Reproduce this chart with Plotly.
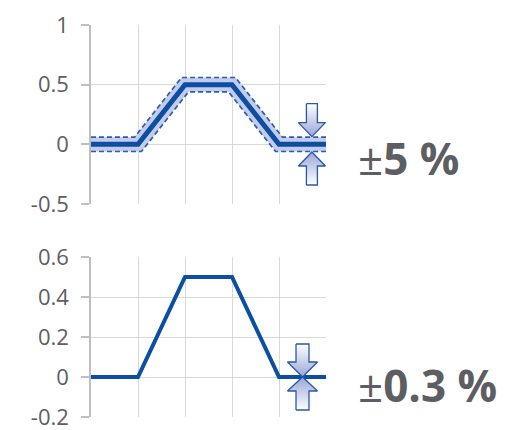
import numpy as np
import plotly.graph_objects as go

# ---- data ----
x_vals = [0, 1, 2, 3, 4, 5]
y_vals = [0, 0, 0.5, 0.5, 0, 0]
tol_top = 0.06          # band half-width (vertical, flat parts) top chart
label_top = ("±", "5 %")
label_bottom = ("±", "0.3 %")
top_ticks = [-0.5, 0, 0.5, 1]
bottom_ticks = [-0.2, 0, 0.2, 0.4, 0.6]
top_range = [-0.5, 1]
bottom_range = [-0.2, 0.6]
x_range = [0, 5]
arrow_x_top = 4.7
arrow_x_bottom = 4.5

# ---- layout geometry ----
W, H = 506, 430
ML, MR, MT, MB = 91, 180, 25, 13
PW = W - ML - MR
PH = H - MT - MB
top_dom = [1 - 179 / PH, 1.0]
bot_dom = [0.0, 160 / PH]

sx = PW / (x_range[1] - x_range[0])
sy_top = (top_dom[1] - top_dom[0]) * PH / (top_range[1] - top_range[0])
sy_bot = (bot_dom[1] - bot_dom[0]) * PH / (bottom_range[1] - bottom_range[0])

BLUE = "#0b4ea2"
DASH = "#2a5db0"
BAND = "#c5cceb"
GRID = "#d9d9d9"
AXIS = "#bfbfbf"
TXT = "#5d5e62"


def offset_line(xs, ys, d_px, sx, sy):
    P = np.column_stack([np.asarray(xs, float) * sx, np.asarray(ys, float) * sy])
    seg = P[1:] - P[:-1]
    L = np.linalg.norm(seg, axis=1)[:, None]
    t = seg / L
    n = np.column_stack([-t[:, 1], t[:, 0]])
    out = [P[0] + d_px * n[0]]
    for j in range(1, len(P) - 1):
        a, b = n[j - 1], n[j]
        m = (a + b) / (1 + a @ b)
        out.append(P[j] + d_px * m)
    out.append(P[-1] + d_px * n[-1])
    out = np.array(out)
    return out[:, 0] / sx, out[:, 1] / sy


fig = go.Figure()

d_px = tol_top * sy_top
ux, uy = offset_line(x_vals, y_vals, d_px, sx, sy_top)
lx, ly = offset_line(x_vals, y_vals, -d_px, sx, sy_top)

# band fill
fig.add_trace(go.Scatter(x=list(ux) + list(lx[::-1]), y=list(uy) + list(ly[::-1]),
                         fill="toself", fillcolor=BAND, line=dict(width=0),
                         mode="lines", xaxis="x", yaxis="y", hoverinfo="skip"))
for bx, by in ((ux, uy), (lx, ly)):
    fig.add_trace(go.Scatter(x=bx, y=by, mode="lines",
                             line=dict(color=DASH, width=1.7, dash="5px,3px"),
                             xaxis="x", yaxis="y", hoverinfo="skip"))
fig.add_trace(go.Scatter(x=x_vals, y=y_vals, mode="lines",
                         line=dict(color=BLUE, width=5), xaxis="x", yaxis="y"))

fig.add_trace(go.Scatter(x=x_vals, y=y_vals, mode="lines",
                         line=dict(color=BLUE, width=4), xaxis="x2", yaxis="y2"))


def arrow(xc, tip_y, direction, sy, xa, ya, length=33, head=14, shaft_w=11, head_w=27):
    # direction: -1 pointing down (tip below tail), +1 pointing up
    px = np.array([-shaft_w / 2, shaft_w / 2, shaft_w / 2, head_w / 2, 0,
                   -head_w / 2, -shaft_w / 2, -shaft_w / 2])
    dist = np.array([length, length, head, head, 0, head, head, length])
    xs = xc + px / sx
    ys = tip_y - direction * dist / sy
    dark = "#9aa5d8"
    if direction < 0:
        cs = [[0, dark], [1, "#ffffff"]]
    else:
        cs = [[0, "#ffffff"], [1, dark]]
    fig.add_trace(go.Scatter(x=xs, y=ys, mode="lines", fill="toself",
                             fillgradient=dict(type="vertical", colorscale=cs),
                             line=dict(color="#2858a8", width=1.3),
                             xaxis=xa, yaxis=ya, hoverinfo="skip"))


arrow(arrow_x_top, tol_top + 0.5 / sy_top, -1, sy_top, "x", "y")
arrow(arrow_x_top, -tol_top - 0.5 / sy_top, 1, sy_top, "x", "y")
arrow(arrow_x_bottom, 0, -1, sy_bot, "x2", "y2", length=33, head=15, shaft_w=13, head_w=30)
arrow(arrow_x_bottom, 0, 1, sy_bot, "x2", "y2", length=33, head=14, shaft_w=13, head_w=30)

axis_common = dict(showgrid=True, gridcolor=GRID, gridwidth=1.3, zeroline=False,
                   showticklabels=False, ticks="", range=x_range, dtick=1, tick0=0,
                   showline=False, fixedrange=True, automargin=False)
yaxis_common = dict(showgrid=True, gridcolor=GRID, gridwidth=1.3, zeroline=False,
                    showline=True, linecolor=AXIS, linewidth=1.5, ticks="outside",
                    ticklen=8, tickcolor=AXIS, tickwidth=1.5,
                    tickfont=dict(family="Open Sans", size=22, color=TXT),
                    ticklabelstandoff=8, ticklabeloverflow="allow",
                    fixedrange=True, automargin=False)

fig.update_layout(
    width=W, height=H, margin=dict(l=ML, r=MR, t=MT, b=MB, autoexpand=False),
    paper_bgcolor="white", plot_bgcolor="white", showlegend=False,
    xaxis=dict(domain=[0, 1], anchor="y", **axis_common),
    xaxis2=dict(domain=[0, 1], anchor="y2", **axis_common),
    yaxis=dict(domain=top_dom, anchor="x", range=top_range, tickvals=top_ticks,
               ticktext=[f"{v:g}" for v in top_ticks], **yaxis_common),
    yaxis2=dict(domain=bot_dom, anchor="x2", range=bottom_range, tickvals=bottom_ticks,
                ticktext=[f"{v:g}" for v in bottom_ticks], **yaxis_common),
)

for (pm, rest), yc in ((label_top, 158), (label_bottom, 385)):
    fig.add_annotation(text=f"{pm}<b>{rest}</b>", xref="paper", yref="paper",
                       x=(356 - ML) / PW, y=(H - MB - yc) / PH, xanchor="left", yanchor="middle",
                       showarrow=False, font=dict(family="Open Sans", size=44, color=TXT))

fig.write_html("out.html", config={"displayModeBar": False},
               post_script="document.body.style.margin='0';document.body.style.overflow='hidden';")
